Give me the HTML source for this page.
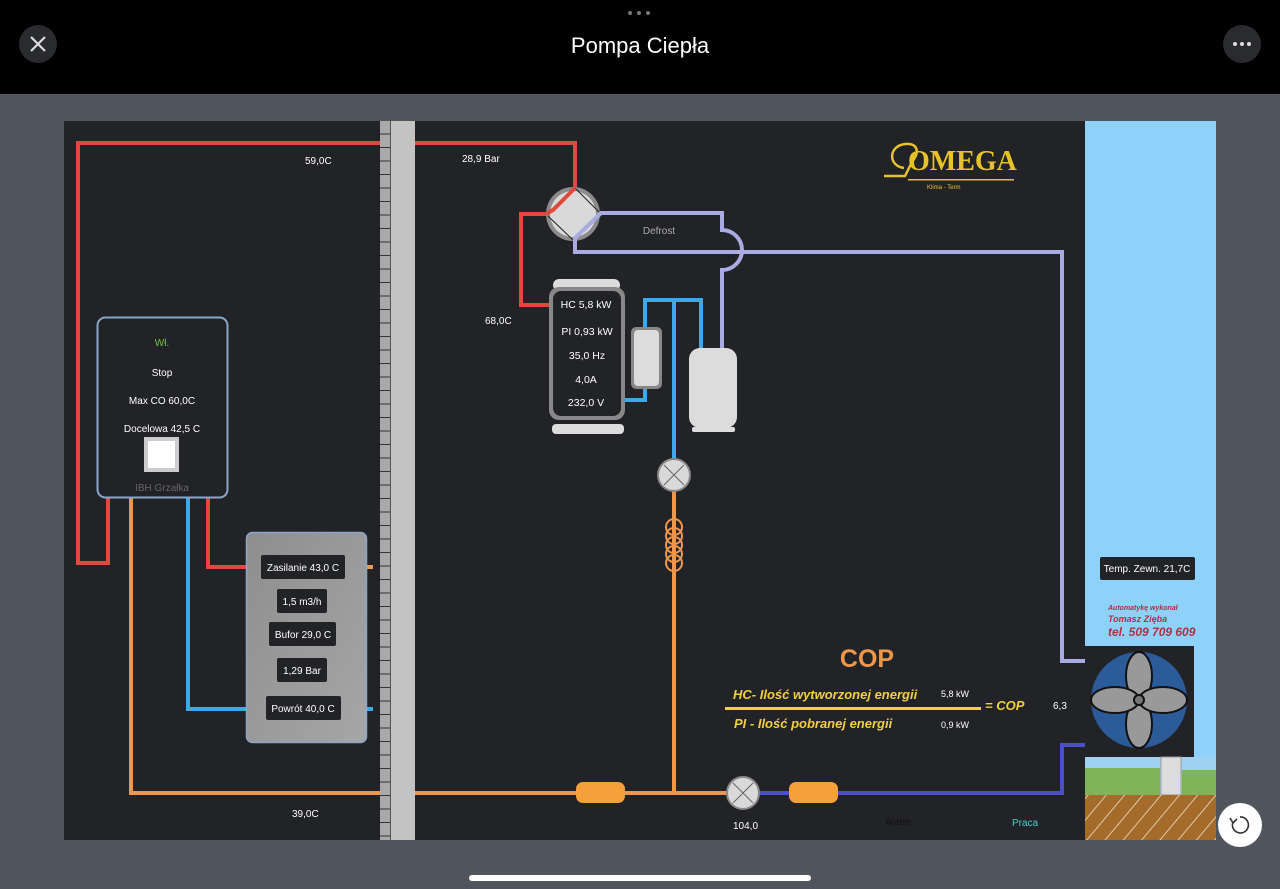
<!DOCTYPE html>
<html><head><meta charset="utf-8"><style>
html,body{margin:0;padding:0;width:1280px;height:889px;overflow:hidden;background:#50555d;font-family:"Liberation Sans",sans-serif}
</style></head><body>
<svg width="1280" height="889" viewBox="0 0 1280 889" xmlns="http://www.w3.org/2000/svg" font-family="Liberation Sans, sans-serif">
<defs>
<pattern id="rung" x="380" y="121" width="11" height="13.5" patternUnits="userSpaceOnUse">
<rect width="11" height="13.5" fill="#a9a9a9"/><rect y="12.5" width="11" height="1.2" fill="#333"/></pattern>
<pattern id="hatch" width="14" height="14" patternUnits="userSpaceOnUse" patternTransform="rotate(40)">
<rect width="14" height="14" fill="#a56b2b"/><rect width="1" height="14" fill="#e0c8a8"/></pattern>
<linearGradient id="buf" x1="0" y1="0" x2="1" y2="1"><stop offset="0" stop-color="#8e8e8e"/><stop offset="1" stop-color="#a6a6a6"/></linearGradient>
</defs>
<rect x="0" y="0" width="1280" height="94" fill="#000"/>
<circle cx="630" cy="13" r="2" fill="#777"/><circle cx="639" cy="13" r="2" fill="#777"/><circle cx="648" cy="13" r="2" fill="#777"/>
<circle cx="38" cy="44" r="19" fill="#2a2b2f"/>
<path d="M31 37 L45 51 M45 37 L31 51" stroke="#ddd" stroke-width="2.2"/>
<circle cx="1242" cy="44" r="19" fill="#2a2b2f"/>
<circle cx="1235" cy="44" r="2" fill="#ddd"/><circle cx="1242" cy="44" r="2" fill="#ddd"/><circle cx="1249" cy="44" r="2" fill="#ddd"/>
<text x="640" y="53" text-anchor="middle" fill="#fff" font-size="22">Pompa Ciepła</text>
<rect x="469" y="875" width="342" height="6" rx="3" fill="#fff"/>
<circle cx="1240" cy="825" r="22" fill="#fff"/>
<path d="M1233 822 A8 8 0 1 0 1240 817" fill="none" stroke="#333" stroke-width="1.6"/><path d="M1230 818 L1233 823 L1237 819" fill="none" stroke="#333" stroke-width="1.6"/>

<rect x="64" y="121" width="1021" height="719" fill="#222327"/>
<rect x="1085" y="121" width="131" height="719" fill="#8ed2fa"/>
<rect x="380" y="121" width="11" height="719" fill="url(#rung)"/>
<rect x="391" y="121" width="24" height="719" fill="#c3c3c3"/>
<rect x="390" y="121" width="1" height="719" fill="#555"/>

<g fill="none" stroke-width="4" stroke-linejoin="miter">
<path d="M108 497 V563 H78 V143 H380" stroke="#e2483d"/>
<path d="M415 143 H575 V190 L553 210 L546 214 H521 V305 H552" stroke="#e2483d"/>
<path d="M208 497 V567 H248" stroke="#e2483d"/>
<path d="M131 497 V793 H380" stroke="#f0964a"/>
<path d="M415 793 H728" stroke="#f0964a"/>
<path d="M674 490 V793" stroke="#f0964a"/>
<path d="M366 567 H373" stroke="#f0964a"/>
<path d="M188 497 V709 H248" stroke="#3fa9e8"/>
<path d="M366 709 H373" stroke="#3fa9e8"/>
<path d="M623 400 H645 V385" stroke="#3fa9e8"/>
<path d="M645 330 V300 H701 V350" stroke="#3fa9e8"/>
<path d="M674 300 V462" stroke="#3fa9e8"/>
<path d="M600 213 H722 V230 A20 20 0 0 1 722 270 V350" stroke="#a9abe2"/>
<path d="M600 213 L575 238 V252 H1062 V661 H1086" stroke="#a9abe2"/>
<path d="M760 793 H1062 V745 H1086" stroke="#4b50c8"/>
</g>

<circle cx="573" cy="214" r="27" fill="#8b8b8b"/>
<circle cx="573" cy="214" r="23" fill="#d9d9d9"/>
<path d="M575 188 L600 213 M548 216 L573 240" stroke="#222" stroke-width="1"/>
<path d="M575 188 L553 210 L546 214" stroke="#e2483d" stroke-width="4" fill="none"/>
<path d="M601 213 L575 238 V246" stroke="#a9abe2" stroke-width="4" fill="none"/>

<rect x="553" y="279" width="67" height="12" rx="6" fill="#dcdcdc"/>
<rect x="552" y="424" width="72" height="10" rx="4" fill="#dcdcdc"/>
<rect x="549" y="287" width="76" height="133" rx="10" fill="#888"/>
<rect x="553" y="291" width="68" height="125" rx="8" fill="#222327"/>
<g fill="#fff" font-size="10.5" text-anchor="middle">
<text x="586" y="308">HC 5,8 kW</text>
<text x="587" y="335">PI 0,93 kW</text>
<text x="587" y="359">35,0 Hz</text>
<text x="586" y="383">4,0A</text>
<text x="586" y="406">232,0 V</text>
</g>
<rect x="631" y="327" width="31" height="62" rx="5" fill="#888"/>
<rect x="634" y="330" width="25" height="56" rx="4" fill="#dcdcdc"/>
<rect x="689" y="348" width="48" height="80" rx="11" fill="#dcdcdc"/>
<rect x="692" y="427" width="43" height="5" rx="2" fill="#dcdcdc"/>
<text x="659" y="234" fill="#aaa" font-size="10" text-anchor="middle">Defrost</text>

<g stroke="#888" stroke-width="2"><circle cx="674" cy="475" r="16" fill="#d9d9d9"/><circle cx="743" cy="793" r="16" fill="#d9d9d9"/></g>
<g stroke="#666" stroke-width="1"><path d="M664 465 L684 485 M684 465 L664 485"/><path d="M733 783 L753 803 M753 783 L733 803"/></g>
<g fill="none" stroke="#f0964a" stroke-width="2"><circle cx="674" cy="527" r="8"/><circle cx="674" cy="536" r="8"/><circle cx="674" cy="545" r="8"/><circle cx="674" cy="554" r="8"/><circle cx="674" cy="563" r="8"/></g>
<rect x="576" y="782" width="49" height="21" rx="7" fill="#f5a03a"/>
<rect x="789" y="782" width="49" height="21" rx="7" fill="#f5a03a"/>

<rect x="97.5" y="317.5" width="130" height="180" rx="8" fill="#222327" stroke="#8aa6cc" stroke-width="2"/>
<g font-size="10" text-anchor="middle" fill="#fff">
<text x="162" y="346" fill="#6fbf4a">Wł.</text>
<text x="162" y="376">Stop</text>
<text x="162" y="404">Max CO 60,0C</text>
<text x="162" y="432">Docelowa 42,5 C</text>
<text x="162" y="491" fill="#666">IBH Grzałka</text>
</g>
<rect x="144" y="437" width="35" height="35" fill="#ccc"/><rect x="148" y="441" width="27" height="27" fill="#fff"/>

<rect x="246.5" y="532.5" width="120" height="210" rx="6" fill="url(#buf)" stroke="#8aa6cc" stroke-width="1.5"/>
<g fill="#222327"><rect x="261" y="555" width="84" height="24" rx="2"/><rect x="277" y="589" width="50" height="24" rx="2"/><rect x="269" y="622" width="67" height="24" rx="2"/><rect x="277" y="658" width="50" height="24" rx="2"/><rect x="266" y="696" width="75" height="24" rx="2"/></g>
<g font-size="10" text-anchor="middle" fill="#fff">
<text x="303" y="571">Zasilanie 43,0 C</text>
<text x="302" y="605">1,5 m3/h</text>
<text x="303" y="638">Bufor 29,0 C</text>
<text x="302" y="674">1,29 Bar</text>
<text x="303" y="712">Powrót 40,0 C</text>
</g>

<g font-size="10" fill="#fff">
<text x="305" y="164">59,0C</text>
<text x="462" y="162">28,9 Bar</text>
<text x="485" y="324">68,0C</text>
<text x="292" y="817">39,0C</text>
<text x="733" y="829">104,0</text>
<text x="885" y="825" fill="#111">Alarm</text>
<text x="1012" y="826" fill="#4cc9cf">Praca</text>
<text x="1053" y="709">6,3</text>
</g>

<text x="867" y="667" font-size="25" font-weight="bold" fill="#f0964a" text-anchor="middle">COP</text>
<g font-style="italic" font-weight="bold" fill="#f0d040">
<text x="733" y="699" font-size="13">HC- Ilość wytworzonej energii</text>
<text x="734" y="728" font-size="13">PI - Ilość pobranej energii</text>
<text x="985" y="710" font-size="13">= COP</text>
</g>
<rect x="725" y="707" width="256" height="3" fill="#f0d040"/>
<text x="941" y="697" font-size="9" fill="#fff">5,8 kW</text>
<text x="941" y="728" font-size="9" fill="#fff">0,9 kW</text>

<text x="908" y="170" font-family="Liberation Serif, serif" font-size="28" font-weight="bold" fill="#e8c22a">OMEGA</text>
<path d="M904 168 C888 166 888 146 905 144 C918 143 920 152 912 162 L905 176 H884" fill="none" stroke="#e8c22a" stroke-width="2.5"/>
<rect x="908" y="179" width="106" height="1.5" fill="#e8c22a"/>
<text x="927" y="189" font-size="6" fill="#e8c22a">Klima - Term</text>

<rect x="1100" y="557" width="95" height="23" rx="2" fill="#222327"/>
<text x="1147" y="572" font-size="10" fill="#fff" text-anchor="middle">Temp. Zewn. 21,7C</text>
<g font-style="italic" font-weight="bold" fill="#b03040">
<text x="1108" y="610" font-size="7">Automatykę wykonał</text>
<text x="1108" y="622" font-size="9">Tomasz Zięba</text>
<text x="1108" y="636" font-size="12">tel. 509 709 609</text>
</g>
<rect x="1085" y="646" width="109" height="111" fill="#222327"/>
<circle cx="1139" cy="700" r="48" fill="#2c5b99"/>
<g fill="#999" stroke="#111" stroke-width="2">
<ellipse cx="1139" cy="676" rx="13" ry="24"/><ellipse cx="1139" cy="724" rx="13" ry="24"/>
<ellipse cx="1115" cy="700" rx="24" ry="13"/><ellipse cx="1163" cy="700" rx="24" ry="13"/>
<circle cx="1139" cy="700" r="5" fill="#777"/>
</g>
<rect x="1085" y="757" width="131" height="38" fill="#9ed2f0"/>
<rect x="1085" y="768" width="75" height="27" fill="#7fb55a"/>
<rect x="1182" y="770" width="34" height="25" fill="#7fb55a"/>
<rect x="1161" y="757" width="20" height="38" fill="#dcdcdc" stroke="#999" stroke-width="1"/>
<rect x="1085" y="795" width="131" height="45" fill="url(#hatch)"/>
</svg>
</body></html>
